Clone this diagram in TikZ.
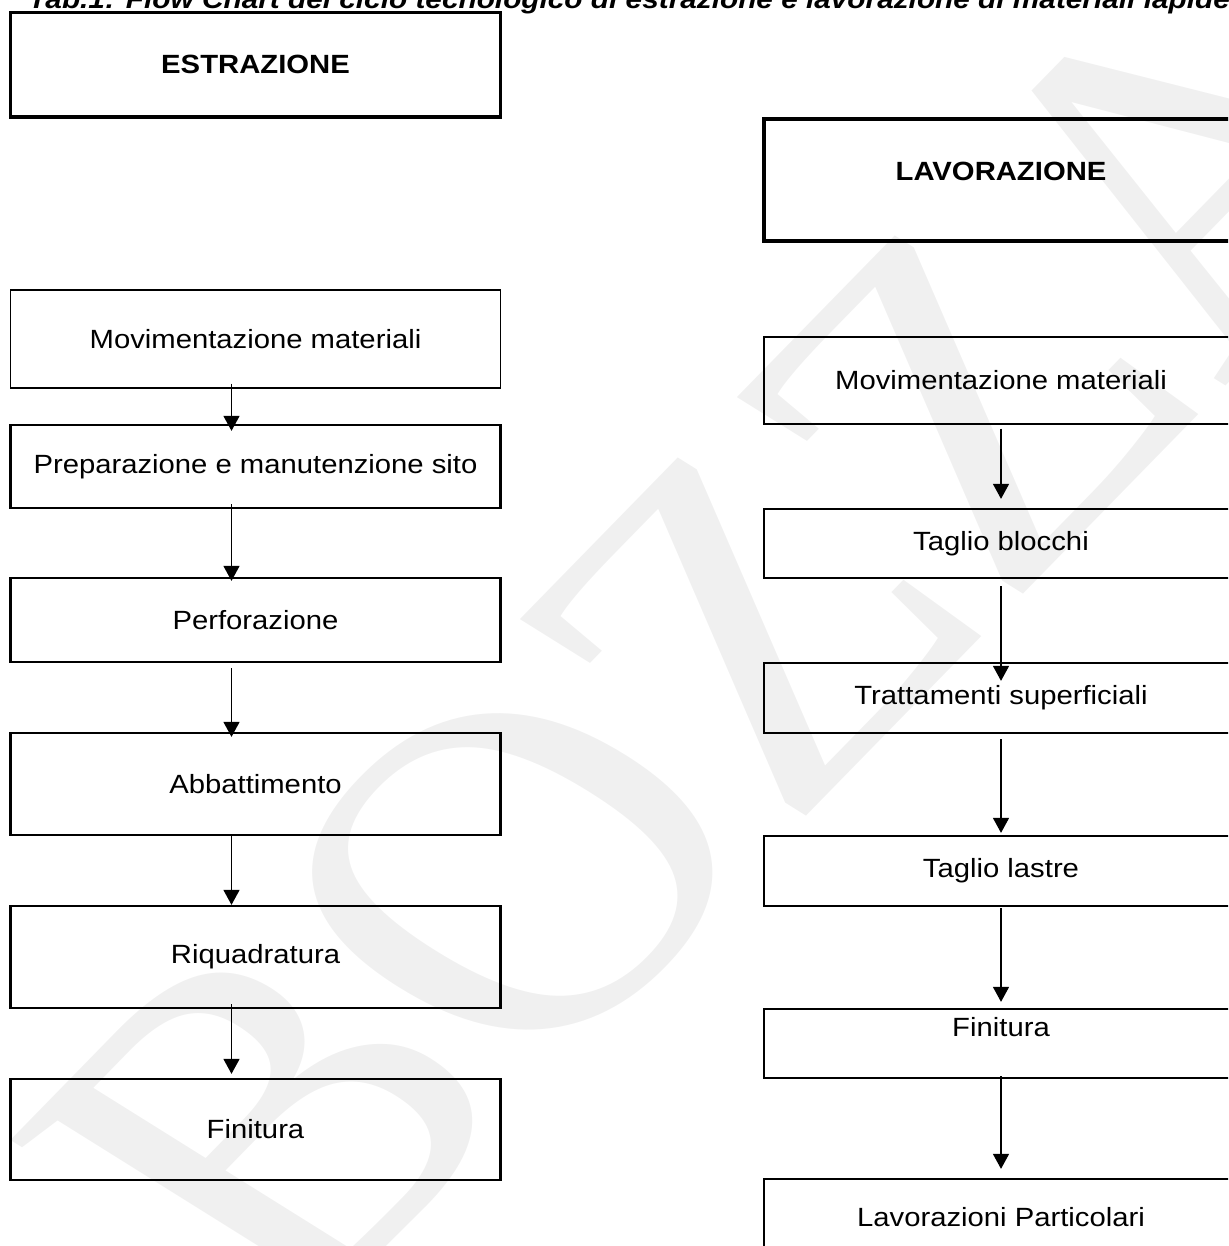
\documentclass[tikz,border=0pt]{standalone}
\usepackage{fontspec}
\newfontfamily\boxfont{Liberation Sans}[FakeStretch=1.11]
\newfontfamily\titlefont{Liberation Sans}[FakeStretch=1.13]
\newfontfamily\bozzafont{Liberation Serif}
\usetikzlibrary{arrows.meta}

\begin{document}
\begin{tikzpicture}[x=0.02cm, y=-0.02cm,
  every node/.style={font=\boxfont\fontsize{15}{18}\selectfont, inner sep=0pt},
  stepbox/.style={draw, line width=1.3pt, minimum width=9.8cm},
  thinbox/.style={stepbox, line width=0.7pt},
  headbox/.style={stepbox, line width=2pt, font=\boxfont\bfseries\fontsize{15}{18}\selectfont},
  flow/.style={line width=0.8pt, -{Triangle[width=0.32cm, length=0.3cm]}}]

\useasboundingbox (0,0) rectangle (1228,1246);
\clip (0,0) rectangle (1228,1246);

% Watermark, stretched like the page
\begin{scope}[xscale=1.25]
\node[transform shape, font=\bozzafont\fontsize{262}{262}\selectfont, text=black!6, rotate=52] (bozza) at (592,640) {BOZZA};
\end{scope}

% Title, cut at the top
\node[anchor=base west, font=\titlefont\bfseries\itshape\fontsize{15}{18}\selectfont] (titolo) at (28,9) {Tab.1: Flow Chart del ciclo tecnologico di estrazione e lavorazione di materiali lapidei};

% Left column: extraction
\node[headbox, minimum height=2.09cm] (estr) at (255.5,64.75) {ESTRAZIONE};
\node[thinbox, minimum height=1.96cm] (movL) at (255.5,339) {Movimentazione materiali};
\node[stepbox, minimum height=1.66cm] (prep) at (255.5,466.5) {Preparazione e manutenzione sito};
\node[stepbox, minimum height=1.68cm] (perf) at (255.5,620) {Perforazione};
\node[stepbox, minimum height=2.04cm] (abba) at (255.5,784) {Abbattimento};
\node[stepbox, minimum height=2.04cm] (riqu) at (255.5,957) {Riquadratura};
\node[stepbox, minimum height=2.02cm] (finL) at (255.5,1129.5) {Finitura};

% Right column: processing
\node[headbox, minimum width=9.48cm, minimum height=2.44cm, text depth=0.36cm] (lavo) at (1001,180) {LAVORAZIONE};
\node[thinbox, minimum width=9.48cm, minimum height=1.74cm] (movR) at (1001,380.5) {Movimentazione materiali};
\node[stepbox, minimum width=9.48cm, minimum height=1.38cm] (tagB) at (1001,543.5) {Taglio blocchi};
\node[stepbox, minimum width=9.48cm, minimum height=1.40cm] (trat) at (1001,698) {Trattamenti superficiali};
\node[stepbox, minimum width=9.48cm, minimum height=1.40cm] (tagL) at (1001,871) {Taglio lastre};
\node[stepbox, minimum width=9.48cm, minimum height=1.38cm, text depth=0.66cm] (finR) at (1001,1043.5) {Finitura};
\node[stepbox, minimum width=9.48cm, minimum height=1.54cm] (lavP) at (1001,1217.5) {Lavorazioni Particolari};

% Arrow columns
\coordinate (colL) at (231.5,0);
\coordinate (colR) at (1001,0);

% Draw arrows
\foreach \a/\b/\s/\e in {movL/prep/-0.1/-0.14, prep/perf/-0.1/-0.08, perf/abba/0.1/-0.1,
    abba/riqu/0/0, riqu/finL/-0.1/0.08}
  \draw[flow, shorten <=\s cm, shorten >=\e cm] (\a.south -| colL) -- (\b.north -| colL);
\foreach \a/\b/\s/\e in {movR/tagB/0.08/0.18, tagB/trat/0.14/-0.38, trat/tagL/0.1/0.04,
    tagL/finR/0.02/0.12, finR/lavP/-0.06/0.18}
  \draw[flow, shorten <=\s cm, shorten >=\e cm] (\a.south -| colR) -- (\b.north -| colR);

\end{tikzpicture}
\end{document}
